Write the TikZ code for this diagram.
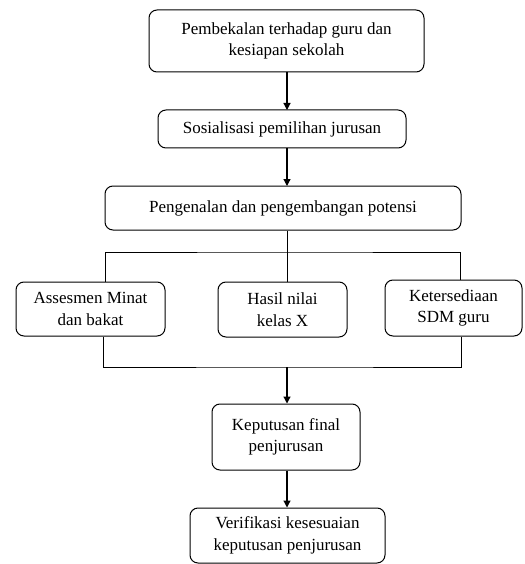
\documentclass[tikz,border=0pt]{standalone}
\usepackage{fontspec}
\setmainfont{Liberation Serif}
\usetikzlibrary{arrows.meta}

\begin{document}
\begin{tikzpicture}[x=1pt,y=-1pt,
	box/.style={draw,line width=1pt,rounded corners=8pt,align=center,
		font=\fontsize{17}{21.5}\selectfont,inner sep=0pt},
	arr/.style={-{Triangle[length=7pt,width=7pt]},line width=1.2pt},
	ln/.style={line width=0.9pt}]
			\useasboundingbox (0,0) rectangle (524,564);
			\node[box,minimum width=275pt,minimum height=62pt] (guru) at (286.5,41) {Pembekalan terhadap guru dan\\kesiapan sekolah};
			\node[box,minimum width=248pt,minimum height=38pt] (sos) at (282,129) {Sosialisasi pemilihan jurusan};
			\node[box,minimum width=356pt,minimum height=44pt] (kenal) at (283,208) {Pengenalan dan pengembangan potensi};
			\node[box,minimum width=149pt,minimum height=54pt] (minat) at (90.5,309) {Assesmen Minat\\dan bakat};
			\node[box,minimum width=129pt,minimum height=55pt] (nilai) at (282.5,309.5) {Hasil nilai\\kelas X};
			\node[box,minimum width=137pt,minimum height=56pt] (sdm) at (453.5,308) {Ketersediaan\\SDM guru};
			\node[box,minimum width=148pt,minimum height=66pt] (final) at (286,437) {Keputusan final\\penjurusan};
			\node[box,minimum width=195pt,minimum height=55pt] (verif) at (287.5,535.5) {Verifikasi kesesuaian\\keputusan penjurusan};
			\coordinate (top) at (287,252);
			\coordinate (bot) at (287,367);
			\draw[arr] (287,72) -- (287,110);
			\draw[arr] (287,148) -- (287,186);
			\draw[ln] (top |- kenal.south) -- (top);
			\draw[ln] (minat.north -| 105,0) |- (top) -| (sdm.north -| 460,0);
			\draw[ln] (top) -- (top |- nilai.north);
			\draw[ln] (minat.south -| 103,0) |- (bot) -| (sdm.south -| 461,0);
			\draw[arr] (bot) -- (final.north -| bot);
			\draw[arr] (final.south -| bot) -- (verif.north -| bot);
		\end{tikzpicture}
\end{document}
